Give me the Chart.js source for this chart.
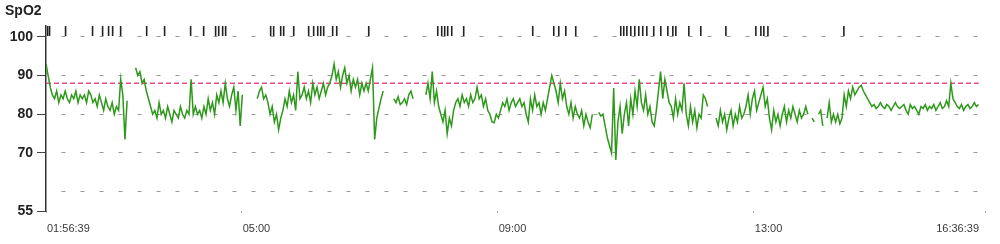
<!DOCTYPE html>
<html>
<head>
<meta charset="utf-8">
<script src="https://cdn.jsdelivr.net/npm/chart.js@4/dist/chart.umd.min.js"></script>
<style>
  html, body { margin: 0; padding: 0; background: #fff; }
  #wrap { width: 1000px; height: 244px; }
</style>
</head>
<body>
<div id="wrap"><canvas id="spo2"></canvas></div>
<script>
// time in minutes after midnight
const startMin = 116.65;   // 01:56:39
const endMin = 996.65;     // 16:36:39
const sampleStepMin = 2;

const xTickTimes = [116.65, 300, 540, 780, 996.65];
const xTickLabels = ['01:56:39', '05:00', '09:00', '13:00', '16:36:39'];
const yTicks = [55, 60, 70, 80, 90, 100];
const yLabels = ['55', '', '70', '80', '90', '100'];
const alarmLevel = 88;

// SpO2 readings, one every 2 min (null = no signal)
const spo2Values = [
  93, 90, 87,
  85, 84, 86, 83, 85, 84, 86, 84, 83, 85, 84, 86, 83, 85, 84, 85, 83, 86,
  85, 83, 84, 82, 85, 83, 81, 84, 82, 81, 83, 80, 82,
  81, 89, 85, 73.5, 83.5,
  null, null, null,
  92, 90, 91, 88, 89, 86, 84,
  82, 80, 81, 79, 83, 80, 81, 79, 82, 80, 78, 81, 80, 79, 82, 80, 79,
  81, 80, 89, 80, 82, 80, 81,
  79, 82, 80, 84, 81, 83, 80, 85, 83,
  86, 83, 88, 84, 82, 85, 87,
  81, 86, 77, 85,
  null, null, null, null, null, null,
  84, 86, 87, 84, 85,
  83, 80, 82, 78, 80, 76, 79, 81,
  84, 82, 86, 83, 85, 81, 91, 84,
  85, 87, 84, 86, 83, 88, 85, 87, 84, 86, 88, 85, 87,
  88, 90, 93, 89, 91, 87, 90, 92, 88, 90, 86, 89,
  87, 89, 85, 88, 86,
  88, 86, 89, 92,
  73.5,
  79, 81.5, 84, 86,
  null, null, null, null,
  84, 83, 84.5, 82.5, 83, 84, 82.5, 85, 86, 84,
  null, null, null, null, null,
  85, 88, 84, 91, 83, 86,
  82, 80, 78, 81, 75, 79, 77, 81, 83,
  84, 82, 85, 83, 84, 82, 85, 83, 84, 87,
  84, 85, 82, 84, 81,
  80, 78, 77.8, 80, 79, 81,
  83, 82, 84, 81, 83, 84, 82, 83, 84, 82, 83, 80,
  78, 84, 81, 85, 82, 83, 80,
  83, 81, 84,
  87, 90, 88,
  86, 83, 88, 84, 86,
  82, 80, 83, 79, 82, 80,
  79, 81, 77, 80, 78, 76.5, 80,
  null, null,
  80.5, 79.5, 80,
  77, 74, 72, 70,
  86.8, 68.2,
  78, 82, 75, 80, 83, 77,
  84, 80, 86, 82, 89, 83, 81, 85,
  80, 82, 78, 77, 81,
  86, 91, 84, 89, 86, 83,
  82, 79, 84, 80, 83, 81, 88,
  80, 77, 82, 78, 81, 76.5, 80, 79,
  85, 84, 82,
  null, null, null,
  79, 77, 81, 78, 80, 76, 79, 81, 77, 80, 78, 82, 79, 80,
  82, 85, 80, 84, 86, 81, 83, 85, 87, 82, 84,
  79, 76, 81, 78, 80, 77,
  80, 82, 78, 81, 79, 82, 80, 78, 81, 79, 80, 82,
  80, null, 79, 78, null, 80, 81, 77, null, 79, 83, 78, 80,
  78, 80, 77.5, 79, 85, 82,
  86, 84, 87, 85, 86, 87,
  87.5, 86, 85, 84,
  83, 82, 82.5, 81.5, 82, 83, 82, 81.5, 82.5, 82,
  81, 82, 83, 82, 81.5, 82, 82.5, 81, 80, 82.5,
  81.5, 82, 81, 80, 82, 81.5, 82.5, 81, 82, 81.5,
  82.5, 81, 82, 83, 81.5, 82, 83.5, 82, 88, 84,
  83, 82, 81.5, 82.5, 81, 82, 82.5, 81.5, 82, 83,
  82, 82.5
];

// event marks along the top (minutes after midnight)
const eventTimes = [
  118.2, 120.0, 135.0, 160.3, 169.7, 175.3, 179.1, 186.6, 211.0, 227.8,
  252.2, 264.4, 275.6, 278.5, 282.2, 285.0, 327.2, 330.0, 336.6, 339.4,
  348.8, 362.8, 367.5, 371.3, 374.1, 376.9, 385.3, 389.1, 419.1, 483.8,
  487.5, 490.3, 493.1, 496.9, 508.1, 572.8, 592.5, 597.2, 603.8, 613.1,
  655.3, 658.1, 661.0, 664.7, 668.4, 672.2, 675.9, 679.7, 686.2, 692.8,
  699.4, 704.1, 706.9, 719.1, 730.3, 753.8, 781.9, 786.6, 789.4, 793.2,
  864.4
];

const spo2Points = spo2Values.map((v, i) => ({ x: startMin + i * sampleStepMin, y: v }));
const eventPoints = eventTimes.map(t => ({ x: t, y: 101.5 }));

const xLabelPlugin = {
  id: 'xLabels',
  afterDraw(chart) {
    const ctx = chart.ctx;
    const xs = chart.scales.x;
    ctx.save();
    ctx.font = '11px "Liberation Sans", Arial, sans-serif';
    ctx.fillStyle = '#3a3a3a';
    ctx.textBaseline = 'middle';
    xTickTimes.forEach((t, i) => {
      const last = i === xTickTimes.length - 1;
      ctx.textAlign = last ? 'right' : 'left';
      const px = xs.getPixelForValue(t);
      ctx.fillText(xTickLabels[i], last ? px - 6 : px + 1, 229);
    });
    ctx.restore();
  }
};

new Chart(document.getElementById('spo2'), {
  type: 'line',
  data: {
    datasets: [
      {
        label: 'SpO2',
        data: spo2Points,
        borderColor: 'rgb(45,152,25)',
        borderWidth: 1.5,
        pointRadius: 0,
        spanGaps: false,
        order: 2
      },
      {
        label: 'Alarm',
        data: [{ x: startMin, y: alarmLevel }, { x: endMin - 6, y: alarmLevel }],
        borderColor: 'rgb(230,75,135)',
        borderWidth: 1.6,
        borderDash: [5, 3],
        pointRadius: 0,
        order: 3
      },
      {
        type: 'scatter',
        label: 'Events',
        data: eventPoints,
        pointStyle: 'line',
        rotation: 90,
        radius: 5,
        borderColor: '#222',
        borderWidth: 1.6,
        clip: false,
        order: 1
      }
    ]
  },
  options: {
    responsive: true,
    maintainAspectRatio: false,
    animation: false,
    layout: { padding: { left: 5, right: 15, top: 0, bottom: 0 } },
    plugins: {
      legend: { display: false },
      tooltip: { enabled: false },
      title: {
        display: true,
        text: 'SpO2',
        align: 'start',
        color: '#222',
        font: { family: '"Liberation Sans", Arial, sans-serif', size: 14, weight: 'bold' },
        padding: { top: 3, bottom: 6.2 }
      }
    },
    scales: {
      x: {
        type: 'linear',
        min: startMin,
        max: endMin,
        afterBuildTicks: s => { s.ticks = xTickTimes.map(v => ({ value: v })); },
        afterFit: s => { s.height = 33; },
        ticks: { display: false },
        grid: { drawOnChartArea: false, drawTicks: true, tickLength: 2, tickColor: '#aaa' },
        border: { display: false }
      },
      y: {
        min: 55,
        max: 102.8,
        afterBuildTicks: s => { s.ticks = yTicks.map(v => ({ value: v })); },
        afterFit: s => { s.width = 41; },
        ticks: {
          padding: 4,
          color: '#222',
          font: { family: '"Liberation Sans", Arial, sans-serif', size: 14, weight: 'bold' },
          callback: v => yLabels[yTicks.indexOf(v)]
        },
        grid: {
          color: c => (c.tick && c.tick.value === 55) ? 'rgba(0,0,0,0)' : '#999',
          lineWidth: 1,
          tickLength: 9,
          tickColor: c => (c.tick && c.tick.value === 60) ? 'rgba(0,0,0,0)' : '#444',
          tickBorderDash: []
        },
        border: { display: true, color: '#333', width: 1.5, dash: [4, 15], dashOffset: 4 }
      }
    }
  },
  plugins: [xLabelPlugin]
});
</script>
</body>
</html>
